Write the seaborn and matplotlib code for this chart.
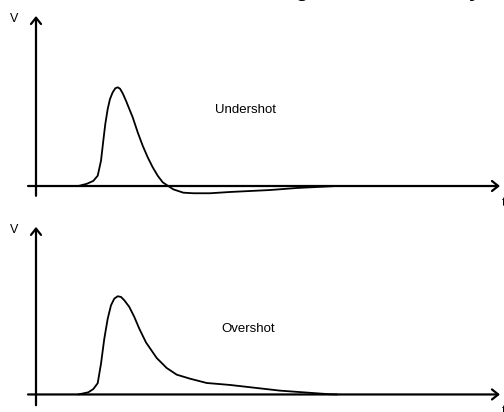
import numpy as np
import pandas as pd
import seaborn as sns
import matplotlib
matplotlib.use("Agg")
import matplotlib.pyplot as plt

# pulse shapes (t in arbitrary units, V normalised to peak)
t_under = [4.23, 5.07, 5.73, 6.17, 6.5, 6.73, 6.93, 7.17, 7.4, 7.67, 7.93, 8.17,
           8.4, 8.67, 9.0, 9.33, 9.67, 10.17, 10.67, 11.17, 11.67, 12.17, 12.67,
           13.07, 13.73, 14.73, 15.73, 17.4, 19.4, 23.4, 26.1, 30.1]
v_under = [0.0, 0.022, 0.052, 0.105, 0.258, 0.462, 0.633, 0.786, 0.888, 0.956, 0.997, 1.007,
           0.993, 0.946, 0.870, 0.786, 0.701, 0.548, 0.411, 0.293, 0.191, 0.105, 0.038,
           0.010, -0.034, -0.068, -0.074, -0.074, -0.061, -0.041, -0.020, 0.0]

t_over = [4.23, 5.23, 5.73, 6.17, 6.5, 6.83, 7.17, 7.5, 7.83, 8.17, 8.5, 8.83,
          9.33, 9.83, 10.33, 11.0, 12.07, 13.07, 14.07, 15.4, 17.07, 19.4, 24.4,
          29.4, 30.1]
v_over = [0.0, 0.022, 0.055, 0.115, 0.314, 0.569, 0.773, 0.910, 0.978, 1.002, 0.995, 0.961,
          0.893, 0.791, 0.671, 0.531, 0.372, 0.270, 0.202, 0.161, 0.117, 0.097, 0.039,
          0.002, 0.0]

labels = ["Undershot", "Overshot"]
title = "Pulse Tailing: Overshot Decay"

sns.set_style("white")
plt.rcParams['font.family'] = ['Liberation Sans', 'DejaVu Sans']
plt.rcParams['text.color'] = 'black'

W, H = 504, 412
fig = plt.figure(figsize=(W / 100, H / 100), dpi=100)

# top panel: rows 0..206 px, baseline at 186 px, 98 px per unit, t=0 at x=36 px
ax1 = fig.add_axes([0, 0.5, 1, 0.5])
ax1.set_xlim(-3.6, 46.8)
ax1.set_ylim(-0.204, 1.898)
# bottom panel: rows 206..412 px, baseline at 394.5 px
ax2 = fig.add_axes([0, 0, 1, 0.5])
ax2.set_xlim(-3.6, 46.8)
ax2.set_ylim(-0.179, 1.923)

panels = [(ax1, t_under, v_under, labels[0], (20.9, 0.776), -0.10, 1.735),
          (ax2, t_over, v_over, labels[1], (21.2, 0.668), -0.11, 1.71)]

for ax, t, v, lab, pos, ybot, ytop in panels:
    df = pd.DataFrame({"t": t, "V": v})
    sns.lineplot(data=df, x="t", y="V", ax=ax, color="black", lw=1.3, sort=False,
                 solid_joinstyle="round", solid_capstyle="round")
    ax.axis("off")
    arrow = dict(arrowstyle="->,head_length=0.5,head_width=0.4", lw=1.6,
                 color="black", mutation_scale=9, shrinkA=0, shrinkB=0)
    ax.annotate("", xy=(46.4, 0), xytext=(-0.8, 0), arrowprops=arrow)
    ax.annotate("", xy=(0, ytop), xytext=(0, ybot), arrowprops=arrow)
    ax.text(-2.15, ytop - 0.03, "V", fontsize=9, ha="center", va="center")
    ax.text(46.55, -0.17, "t", fontsize=9, ha="left", va="center")
    ax.text(pos[0], pos[1], lab, fontsize=9.5, ha="center", va="center")

fig.text(481 / W, 1 + 3 / H, title, fontsize=15, fontweight="bold",
         ha="right", va="baseline")

fig.savefig("out.png", dpi=100)
